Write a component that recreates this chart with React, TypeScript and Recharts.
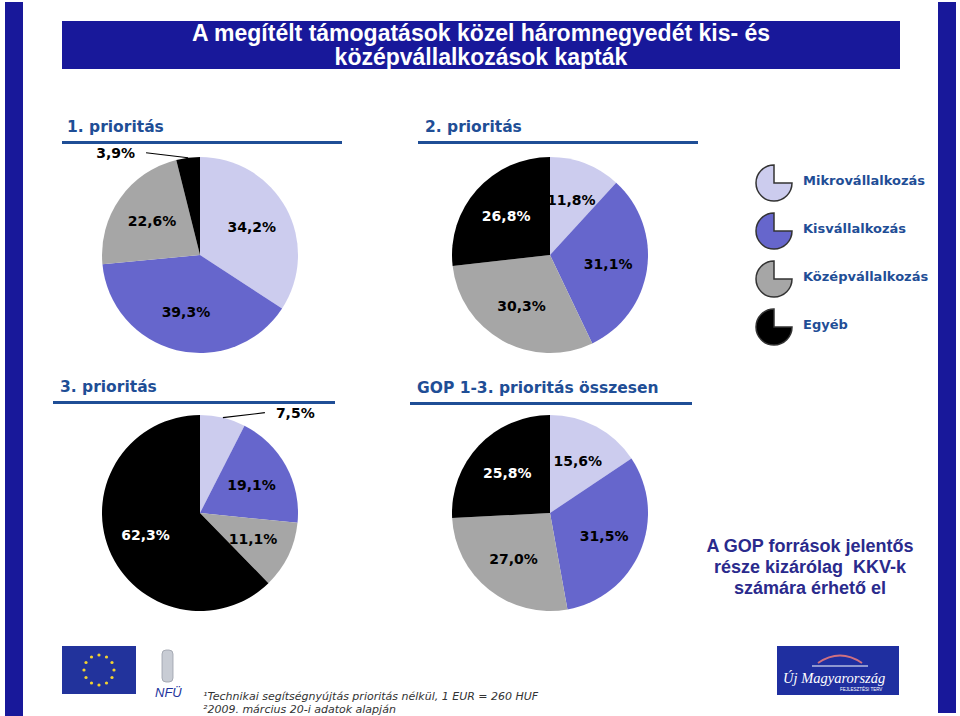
import React from 'react';
import { PieChart, Pie, Cell, Legend } from 'recharts';

// ---- data ----
const categories = ['Mikrovállalkozás', 'Kisvállalkozás', 'Középvállalkozás', 'Egyéb'];
const colors = ['#CCCCEE', '#6666CC', '#A6A6A6', '#000000'];
const prio1 = [34.2, 39.3, 22.6, 3.9];
const prio2 = [11.8, 31.1, 30.3, 26.8];
const prio3 = [7.5, 19.1, 11.1, 62.3];
const gopTotal = [15.6, 31.5, 27.0, 25.8];
const chartTitles = ['1. prioritás', '2. prioritás', '3. prioritás', 'GOP 1-3. prioritás összesen'];
const mainTitle = ['A megítélt támogatások közel háromnegyedét kis- és', 'középvállalkozások kapták'];
const sideNote = ['A GOP források jelentős', 'része kizárólag  KKV-k', 'számára érhető el'];
const footnotes = ['\u00B9Technikai segítségnyújtás prioritás nélkül, 1 EUR = 260 HUF', '\u00B22009. március 20-i adatok alapján'];

const NAVY = '#18189A';
const HEAD = '#1F4E96';

const toData = (vals: number[]) => categories.map((name, i) => ({ name, value: vals[i] }));
const fmt = (v: number) => v.toFixed(1).replace('.', ',') + '%';

const renderLabel = (props: any) => {
  const { cx, cy, midAngle, outerRadius, value, index } = props;
  const RAD = Math.PI / 180;
  const c = Math.cos(midAngle * RAD);
  const s = Math.sin(midAngle * RAD);
  const txt = fmt(value);
  const style = { fontFamily: 'DejaVu Sans', fontWeight: 700, fontSize: 14 } as React.CSSProperties;
  if (value < 8) {
    const ex = cx + outerRadius * c;
    const ey = cy - outerRadius * s;
    const dir = c >= 0 ? 1 : -1;
    const lx = ex + dir * 42;
    const ly = ey - 5;
    return (
      <g>
        <line x1={ex} y1={ey} x2={lx} y2={ly} stroke="#000" strokeWidth={1.2} />
        <text x={lx + dir * 11} y={ly} textAnchor={dir > 0 ? 'start' : 'end'} dominantBaseline="central" fill="#000" style={style}>
          {txt}
        </text>
      </g>
    );
  }
  const r = outerRadius * 0.6;
  return (
    <text
      x={cx + r * c}
      y={cy - r * s}
      textAnchor="middle"
      dominantBaseline="central"
      fill={index === 3 ? '#FFFFFF' : '#000000'}
      style={style}
    >
      {txt}
    </text>
  );
};

const LegendIcon = ({ color }: { color: string }) => (
  <svg width={40} height={40} style={{ display: 'block' }}>
    <path d="M20,20 L20,2 A18,18 0 1,0 38,20 Z" fill={color} stroke="#333" strokeWidth={1.5} />
  </svg>
);

const renderLegend = () => (
  <div>
    {categories.map((name, i) => (
      <div key={name} style={{ display: 'flex', alignItems: 'center', height: 48 }}>
        <LegendIcon color={colors[i]} />
        <span
          style={{
            marginLeft: 9,
            marginBottom: 6,
            fontFamily: 'DejaVu Sans',
            fontWeight: 700,
            fontSize: 13,
            color: HEAD,
          }}
        >
          {name}
        </span>
      </div>
    ))}
  </div>
);

const pies = [
  { vals: prio1, cx: 200, cy: 255 },
  { vals: prio2, cx: 550, cy: 255 },
  { vals: prio3, cx: 200, cy: 513 },
  { vals: gopTotal, cx: 550, cy: 513 },
];

const headings = [
  { text: chartTitles[0], x: 67, y: 127, lx: 62, lw: 280, ly: 141 },
  { text: chartTitles[1], x: 425, y: 127, lx: 418, lw: 280, ly: 141 },
  { text: chartTitles[2], x: 60, y: 387, lx: 53, lw: 282, ly: 401 },
  { text: chartTitles[3], x: 417, y: 388, lx: 410, lw: 282, ly: 402 },
];

const euStars = Array.from({ length: 12 }, (_, i) => i);

export default function App() {
  return (
    <div style={{ position: 'relative', width: 960, height: 716, background: '#fff', overflow: 'hidden' }}>
      <style>{'body{margin:0}'}</style>
      {/* side bars */}
      <div style={{ position: 'absolute', left: 5, top: 2, width: 18, height: 714, background: NAVY }} />
      <div style={{ position: 'absolute', left: 938, top: 2, width: 18, height: 711, background: NAVY }} />
      {/* title */}
      <div
        style={{
          position: 'absolute',
          left: 62,
          top: 21,
          width: 838,
          height: 48,
          background: NAVY,
          color: '#fff',
          fontFamily: 'Liberation Sans',
          fontWeight: 700,
          fontSize: 23,
          lineHeight: '24px',
          textAlign: 'center',
          paddingTop: 0,
          boxSizing: 'border-box',
        }}
      >
        {mainTitle.map((t) => (
          <div key={t}>{t}</div>
        ))}
      </div>
      {/* headings */}
      {headings.map((h) => (
        <React.Fragment key={h.text}>
          <div
            style={{
              position: 'absolute',
              left: h.x,
              top: h.y - 10,
              height: 20,
              lineHeight: '20px',
              fontFamily: 'DejaVu Sans',
              fontWeight: 700,
              fontSize: 15.5,
              color: HEAD,
              whiteSpace: 'nowrap',
            }}
          >
            {h.text}
          </div>
          <div style={{ position: 'absolute', left: h.lx, top: h.ly, width: h.lw, height: 3, background: HEAD }} />
        </React.Fragment>
      ))}
      {/* charts */}
      <div style={{ position: 'absolute', left: 0, top: 0 }}>
        <PieChart width={960} height={716} margin={{ top: 0, right: 0, bottom: 0, left: 0 }}>
          {pies.map((p, k) => (
            <Pie
              key={k}
              data={toData(p.vals)}
              dataKey="value"
              nameKey="name"
              cx={p.cx}
              cy={p.cy}
              outerRadius={98}
              startAngle={90}
              endAngle={-270}
              stroke="none"
              label={renderLabel}
              labelLine={false}
              isAnimationActive={false}
            >
              {categories.map((c, i) => (
                <Cell key={c} fill={colors[i]} />
              ))}
            </Pie>
          ))}
          <Legend
            content={renderLegend}
            wrapperStyle={{ left: 754, top: 159, width: 190, height: 200, bottom: 'auto' }}
          />
        </PieChart>
      </div>
      {/* side note */}
      <div
        style={{
          position: 'absolute',
          left: 695,
          top: 536,
          width: 230,
          textAlign: 'center',
          fontFamily: 'Liberation Sans',
          fontWeight: 700,
          fontSize: 18,
          lineHeight: '21px',
          color: '#2A2A8C',
          whiteSpace: 'pre',
        }}
      >
        {sideNote.map((t) => (
          <div key={t}>{t}</div>
        ))}
      </div>
      {/* footer logos */}
      <svg width={960} height={716} style={{ position: 'absolute', left: 0, top: 0, pointerEvents: 'none' }}>
        <rect x={62} y={646} width={74} height={48} fill="#22339C" />
        {euStars.map((i) => {
          const a = (i * 30 * Math.PI) / 180;
          return <circle key={i} cx={99 + 15 * Math.sin(a)} cy={670 - 15 * Math.cos(a)} r={1.6} fill="#F2D230" />;
        })}
        <rect x={162} y={650} width={11} height={32} rx={4} fill="#C8CCD4" stroke="#9AA0AA" strokeWidth={0.8} />
        <text x={155} y={697} fontFamily="Liberation Sans" fontStyle="italic" fontSize={13} fill="#22339C">NFÜ</text>
        <rect x={777} y={646} width={122} height={49} fill="#1F2FA0" />
        <path d="M818,663 Q840,648 862,663" fill="none" stroke="#D07080" strokeWidth={2} />
        <path d="M812,666 L868,666" stroke="#fff" strokeWidth={1} />
        <text x={783} y={683} fontFamily="Liberation Serif" fontStyle="italic" fontSize={14.5} fill="#fff">Új Magyarország</text>
        <text x={840} y={691} fontFamily="Liberation Sans" fontSize={4.5} fill="#fff">FEJLESZTÉSI TERV</text>
      </svg>
      {/* footnotes */}
      <div
        style={{
          position: 'absolute',
          left: 203,
          top: 690,
          fontFamily: 'DejaVu Sans',
          fontStyle: 'italic',
          fontSize: 11,
          lineHeight: '13px',
          color: '#333',
          whiteSpace: 'nowrap',
        }}
      >
        {footnotes.map((t) => (
          <div key={t}>{t}</div>
        ))}
      </div>
    </div>
  );
}
